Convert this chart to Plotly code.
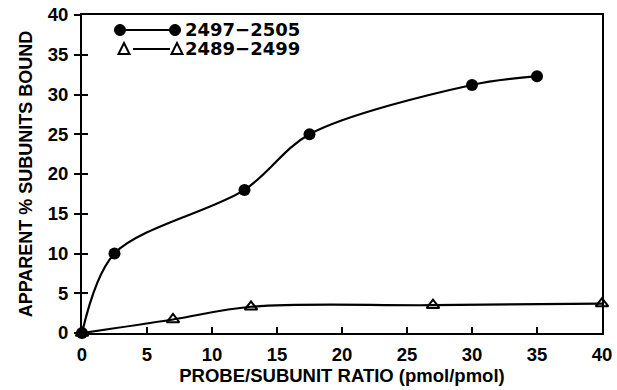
import plotly.graph_objects as go

# Data
circ_x = [0, 2.5, 12.5, 17.5, 30, 35]
circ_y = [0, 10, 18, 25, 31.2, 32.3]
tri_x = [0, 7, 13, 27, 40]
tri_y = [0, 1.7, 3.3, 3.5, 3.7]
x_ticks = [0, 5, 10, 15, 20, 25, 30, 35, 40]
y_ticks = [0, 5, 10, 15, 20, 25, 30, 35, 40]
legend_labels = ["2497\u22122505", "2489\u22122499"]

FONT = "Liberation Sans"
W, H = 617, 390
PX0, PX1, PY0, PY1 = 82, 602, 15, 333
L, R, T, B = PX0, W - PX1, PY0, H - PY1
PW, PH = PX1 - PX0, PY1 - PY0


def px(xp):
    return (xp - PX0) / PW


def py(yp):
    return (PY1 - yp) / PH


fig = go.Figure()

fig.add_trace(go.Scatter(
    x=circ_x, y=circ_y, mode="lines+markers",
    line=dict(color="black", width=2.2, shape="spline", smoothing=0.9),
    marker=dict(symbol="circle", size=12, color="black"),
    showlegend=False, cliponaxis=False))

fig.add_trace(go.Scatter(
    x=tri_x, y=tri_y, mode="lines+markers",
    line=dict(color="black", width=2.2, shape="spline", smoothing=1.0),
    marker=dict(symbol="triangle-up-open", size=11, color="black",
                line=dict(width=2, color="black")),
    showlegend=False, cliponaxis=False))

# invisible trace to activate overlay axis (for crossing y ticks)
fig.add_trace(go.Scatter(x=[None], y=[None], yaxis="y2", showlegend=False,
                         hoverinfo="skip"))

# hand-drawn legend (symbols as shapes, labels as text)
shapes = []
r = 5.5
ry1 = 30
for cx in (120, 175):
    shapes.append(dict(type="circle", xref="paper", yref="paper",
                       x0=px(cx - r), x1=px(cx + r), y0=py(ry1 + r), y1=py(ry1 - r),
                       fillcolor="black", line=dict(color="black", width=1)))
shapes.append(dict(type="line", xref="paper", yref="paper",
                   x0=px(126), x1=px(169), y0=py(ry1), y1=py(ry1),
                   line=dict(color="black", width=2)))
ry2 = 49
for cx in (124, 177):
    path = "M {} {} L {} {} L {} {} Z".format(
        px(cx - 5.5), py(ry2 + 5), px(cx + 5.5), py(ry2 + 5), px(cx), py(ry2 - 6))
    shapes.append(dict(type="path", xref="paper", yref="paper", path=path,
                       line=dict(color="black", width=2)))
shapes.append(dict(type="line", xref="paper", yref="paper",
                   x0=px(133), x1=px(170), y0=py(ry2), y1=py(ry2),
                   line=dict(color="black", width=2)))

leg_font = dict(family="DejaVu Sans", size=18, color="black", weight="bold")
fig.add_annotation(xref="paper", yref="paper", x=px(184), y=py(ry1),
                   xanchor="left", yanchor="middle", showarrow=False,
                   text=legend_labels[0], font=leg_font, borderpad=0)
fig.add_annotation(xref="paper", yref="paper", x=px(184), y=py(ry2),
                   xanchor="left", yanchor="middle", showarrow=False,
                   text=legend_labels[1], font=leg_font, borderpad=0)

tick_font = dict(family=FONT, size=18.5, color="black", weight="bold")

fig.update_layout(
    width=W, height=H,
    margin=dict(l=L, r=R, t=T, b=B),
    paper_bgcolor="white", plot_bgcolor="white",
    font=dict(family=FONT, color="black"),
    shapes=shapes,
    xaxis=dict(range=[0, 40], tickvals=x_ticks, ticktext=[str(v) for v in x_ticks],
               ticks="inside", ticklen=6, tickwidth=1.5, tickcolor="black",
               showline=True, linecolor="black", linewidth=2, mirror=True,
               showgrid=False, zeroline=False, tickfont=tick_font,
               ticklabelstandoff=4, automargin=False, ticklabeloverflow="allow",
               title=dict(text="PROBE/SUBUNIT RATIO (pmol/pmol)",
                          font=dict(family=FONT, size=18.5, color="black", weight="bold"),
                          standoff=0)),
    yaxis=dict(range=[0, 40], tickvals=y_ticks, ticktext=[str(v) for v in y_ticks],
               ticks="outside", ticklen=6, tickwidth=1.5, tickcolor="black",
               showline=True, linecolor="black", linewidth=2, mirror=True,
               showgrid=False, zeroline=False, tickfont=tick_font,
               ticklabelstandoff=2, automargin=False, ticklabeloverflow="allow",
               title=dict(text="APPARENT % SUBUNITS BOUND",
                          font=dict(family=FONT, size=18, color="black", weight="bold"),
                          standoff=10)),
    yaxis2=dict(range=[0, 40], overlaying="y", side="left", tickvals=y_ticks,
                ticks="inside", ticklen=6, tickwidth=1.5, tickcolor="black",
                showticklabels=False, showline=False, showgrid=False, zeroline=False,
                automargin=False),
)

fig.write_html("out.html",
               config={"displayModeBar": False},
               post_script="document.body.style.margin='0';"
                           "document.body.style.overflow='hidden';")
